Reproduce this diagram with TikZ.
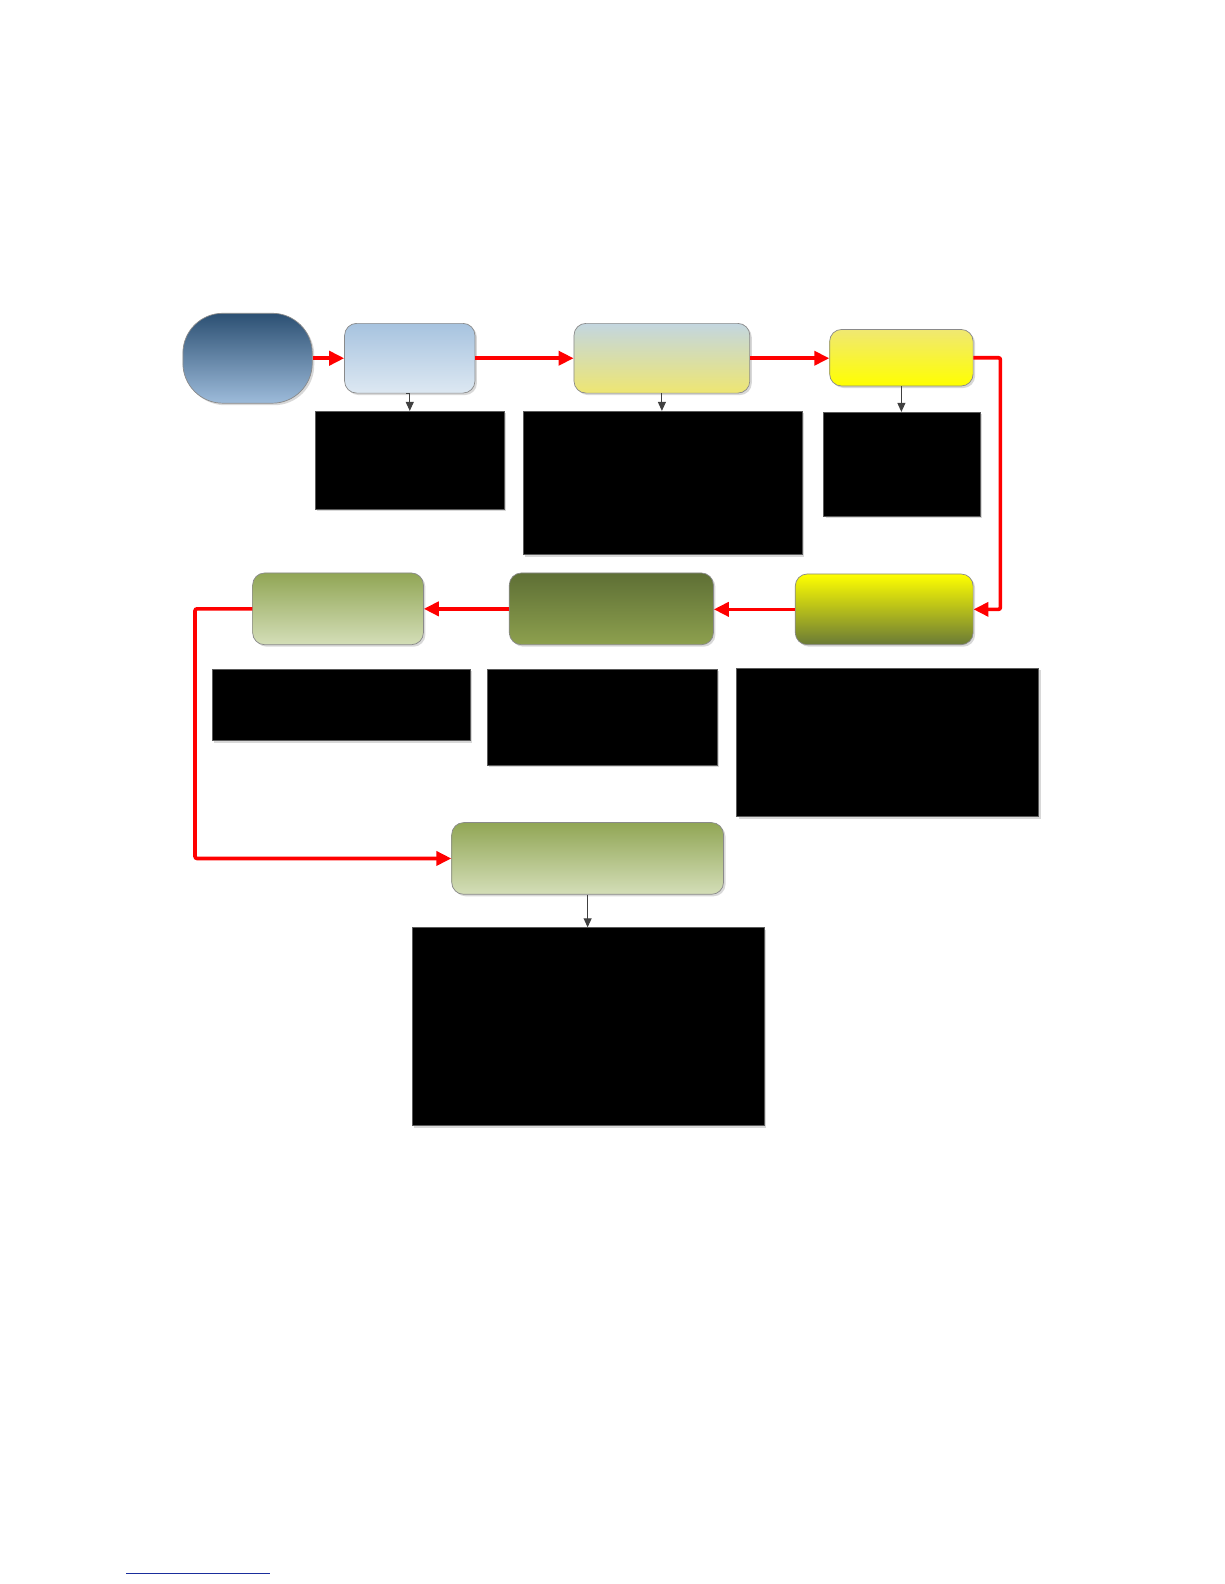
\documentclass[tikz,border=0pt]{standalone}
\usetikzlibrary{arrows.meta,shadows,fit}
\definecolor{boxgray}{HTML}{8A8A8A}
\definecolor{blkborder}{HTML}{5A5A5A}
\definecolor{downgray}{HTML}{404040}
\definecolor{arrred}{HTML}{FF0000}
\definecolor{linkblue}{HTML}{1A2E9C}
\definecolor{startTop}{HTML}{2C5073}
\definecolor{startBot}{HTML}{9DBBDA}
\definecolor{bOneTop}{HTML}{A7C3DF}
\definecolor{bOneBot}{HTML}{DDE8F2}
\definecolor{bTwoTop}{HTML}{C3D6E0}
\definecolor{bTwoBot}{HTML}{EEE672}
\definecolor{bThrTop}{HTML}{F0E872}
\definecolor{bThrBot}{HTML}{FFFF00}
\definecolor{bFouTop}{HTML}{FFFF00}
\definecolor{bFouBot}{HTML}{6A7A36}
\definecolor{bFivTop}{HTML}{5E6F35}
\definecolor{bFivBot}{HTML}{8DA04E}
\definecolor{bSixTop}{HTML}{91A655}
\definecolor{bSixBot}{HTML}{D4DEB8}
\begin{document}
\begin{tikzpicture}[x=1.0105pt,y=-1.0105pt,
  stepbox/.style={rectangle, rounded corners=12pt, draw=boxgray, line width=0.7pt,
    inner sep=0pt, drop shadow={opacity=0.3, shadow xshift=2pt, shadow yshift=-2pt}},
  blackbox/.style={rectangle, fill=black, draw=blkborder, line width=0.8pt, inner sep=0pt,
    drop shadow={opacity=0.3, shadow xshift=2pt, shadow yshift=-2pt}},
  flow/.style={draw=arrred, line width=3.6pt, -{Triangle[length=15pt,width=14pt]}},
  downarrow/.style={draw=downgray, line width=1pt, -{Triangle[length=9pt,width=8pt]}}]
\fill[white] (0,0) rectangle (1211.3,1567.5);
\useasboundingbox (0,0) rectangle (1211.3,1567.5);

% top row
\node[stepbox, rounded corners=40pt, top color=startTop, bottom color=startBot,
  fit={(181,310) (309,399)}] (start) {};
\node[stepbox, top color=bOneTop, bottom color=bOneBot, fit={(341,320) (470,389)}] (b1) {};
\node[stepbox, top color=bTwoTop, bottom color=bTwoBot, fit={(568,320) (742,389)}] (b2) {};
\node[stepbox, top color=bThrTop, bottom color=bThrBot, fit={(821,326) (963,382)}] (b3) {};

\node[blackbox, fit={(312,407) (499,504)}] (k1) {};
\node[blackbox, fit={(518,407) (794,549)}] (k2) {};
\node[blackbox, fit={(815,408) (970,511)}] (k3) {};

% middle row
\node[stepbox, top color=bFouTop, bottom color=bFouBot, fit={(787,568) (963,638)}] (b4) {};
\node[stepbox, top color=bFivTop, bottom color=bFivBot, fit={(504,567) (706,638)}] (b5) {};
\node[stepbox, top color=bSixTop, bottom color=bSixBot, fit={(250,567) (419,638)}] (b6) {};

\node[blackbox, fit={(210,662) (465,733)}] (k6) {};
\node[blackbox, fit={(482,662) (710,757)}] (k5) {};
\node[blackbox, fit={(729,661) (1028,808)}] (k4) {};

% bottom
\node[stepbox, top color=bSixTop, bottom color=bSixBot, fit={(447,814) (716,885)}] (b7) {};
\node[blackbox, fit={(408,918) (756,1114)}] (k7) {};

% guide coordinates
\coordinate (rc) at (990,0);
\coordinate (lc) at (193,0);

% red flow
\draw[flow] (start.east) -- (start.east -| b1.west);
\draw[flow] (b1.east) -- (b1.east -| b2.west);
\draw[flow] (b2.east) -- (b2.east -| b3.west);
\draw[flow, rounded corners=2pt] (b3.east) -- (b3.east -| rc) |- (b4.east);
\draw[flow] (b4.west) -- (b4.west -| b5.east);
\draw[flow] (b5.west) -- (b5.west -| b6.east);
\draw[flow, rounded corners=2pt] (b6.west) -- (b6.west -| lc) |- (b7.west);

% small down arrows
\draw[downarrow] ([xshift=-4pt]b1.south) -- (b1.south) -- (b1.south |- k1.north);
\draw[downarrow] (b2.south) -- (b2.south |- k2.north);
\draw[downarrow] (b3.south) -- (b3.south |- k3.north);
\draw[downarrow] (b7.south) -- (b7.south |- k7.north);

% footnote rule
\coordinate (fa) at (125,1557);
\coordinate (fb) at (267,1557);
\draw[linkblue, line width=1.3pt] (fa) -- (fb);
\end{tikzpicture}
\end{document}
